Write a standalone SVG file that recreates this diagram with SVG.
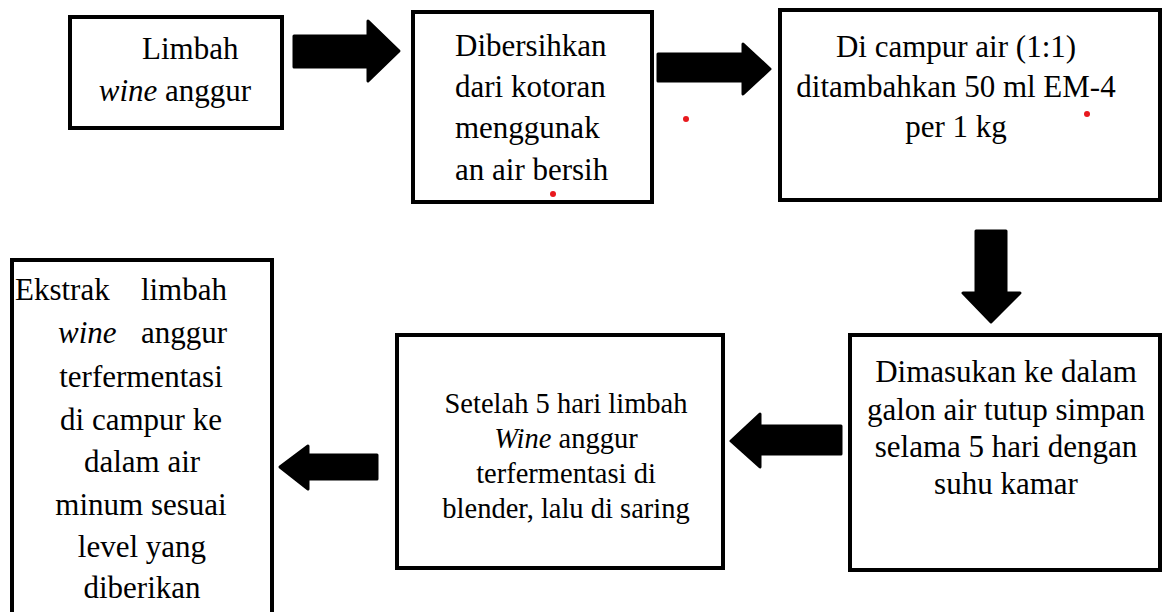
<svg xmlns="http://www.w3.org/2000/svg" width="1162" height="612" viewBox="0 0 1162 612">
<style>
.box{fill:#fff;stroke:#000;stroke-width:4}
.t{font-family:"Liberation Serif","Times New Roman",serif;font-size:31px;fill:#000}
.s{font-size:28.5px}
.c{text-anchor:middle}
.i{font-style:italic}
.arr{fill:#000;stroke:#000;stroke-width:3;stroke-linejoin:round}
.dot{fill:#e8191e}
</style>
<rect width="1162" height="612" fill="#fff"/>
<g id="n1">
<rect class="box" x="70" y="17" width="212" height="111"/>
<text class="t" x="142" y="59">Limbah</text>
<text class="t c" x="175" y="101"><tspan class="i">wine</tspan> anggur</text>
</g>
<g id="n2">
<rect class="box" x="413" y="12" width="239" height="190"/>
<text class="t" x="455" y="56">Dibersihkan</text>
<text class="t" x="455" y="97">dari kotoran</text>
<text class="t" x="455" y="138">menggunak</text>
<text class="t" x="455" y="180">an air bersih</text>
</g>
<g id="n3">
<rect class="box" x="780" y="10" width="380" height="190"/>
<text class="t c" x="956" y="57">Di campur air (1:1)</text>
<text class="t c" x="956" y="97">ditambahkan 50 ml EM-4</text>
<text class="t c" x="956" y="137">per 1 kg</text>
</g>
<g id="n6">
<rect class="box" x="850" y="335" width="310" height="235"/>
<text class="t c" x="1006" y="382">Dimasukan ke dalam</text>
<text class="t c" x="1006" y="420">galon air tutup simpan</text>
<text class="t c" x="1006" y="457">selama 5 hari dengan</text>
<text class="t c" x="1006" y="494">suhu kamar</text>
</g>
<g id="n5">
<rect class="box" x="397" y="335" width="326" height="233"/>
<text class="t s c" x="566" y="413">Setelah 5 hari limbah</text>
<text class="t s c" x="566" y="448"><tspan class="i">Wine</tspan> anggur</text>
<text class="t s c" x="566" y="483">terfermentasi di</text>
<text class="t s c" x="566" y="518">blender, lalu di saring</text>
</g>
<g id="n4">
<rect class="box" x="12" y="260" width="260" height="370"/>
<text class="t" x="15" y="300">Ekstrak</text>
<text class="t" x="227" y="300" text-anchor="end">limbah</text>
<text class="t i" x="58" y="343">wine</text>
<text class="t" x="227" y="343" text-anchor="end">anggur</text>
<text class="t c" x="141" y="387">terfermentasi</text>
<text class="t c" x="141" y="430">di campur ke</text>
<text class="t c" x="142" y="472">dalam air</text>
<text class="t c" x="141" y="515">minum sesuai</text>
<text class="t c" x="142" y="557">level yang</text>
<text class="t c" x="142" y="598">diberikan</text>
</g>
<g id="connectors">
<path class="arr" d="M294,36 H368 V21 L399,51 L368,81 V67 H294 Z"/>
<path class="arr" d="M658,54 H743 V44 L770,69 L743,94 V81 H658 Z"/>
<path class="arr" d="M976,231 H1006 V293 H1020 L991,322 L963,293 H976 Z"/>
<path class="arr" d="M841,426 H760 V414 L731,441 L760,467 V454 H841 Z"/>
<path class="arr" d="M377,455 H308 V446 L280,467 L308,489 V479 H377 Z"/>
</g>
<circle class="dot" cx="686" cy="119" r="3"/>
<circle class="dot" cx="553" cy="194" r="3"/>
<circle class="dot" cx="1087" cy="114" r="3"/>
</svg>
